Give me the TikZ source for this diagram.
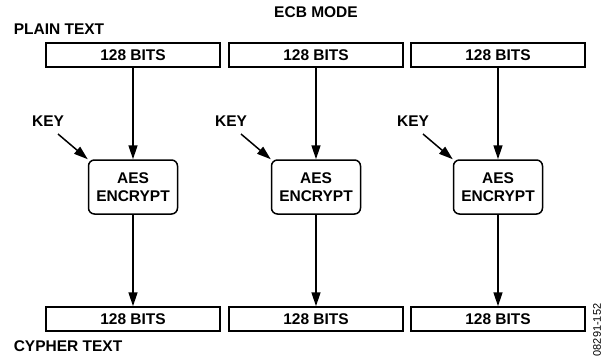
\documentclass[tikz,border=0pt]{standalone}
\usepackage{fontspec}
\setmainfont{Liberation Sans}
\usetikzlibrary{arrows.meta, positioning}

\begin{document}
\begin{tikzpicture}[x=1pt, y=-1pt, line width=1.5pt, >={Triangle[length=14pt,width=9pt]},
  lbl/.style={font=\fontsize{15.5}{18}\selectfont\bfseries, inner sep=0pt},
  bitsbox/.style={lbl, draw, minimum width=174pt, minimum height=24pt},
  aesbox/.style={lbl, draw, rounded corners=6pt, minimum width=89pt, minimum height=54pt, align=center}]
\useasboundingbox (0,0) rectangle (603,360);
% Headings
\node[lbl] (title) at (316,12.5) {ECB MODE};
\node[lbl, anchor=west] (plain) at (13,29) {PLAIN TEXT};
\node[lbl, anchor=west] (cypher) at (13,346) {CYPHER TEXT};
% One column per block
\foreach \cx [count=\i] in {133, 316, 498} {
  \node[bitsbox] (in\i) at (\cx,55) {128 BITS};
  \node[aesbox] (aes\i) at (\cx,187) {AES\\ENCRYPT};
  \node[bitsbox] (out\i) at (\cx,319) {128 BITS};
  \node[lbl] (key\i) at (\cx-85,121) {KEY};
  \coordinate (keyst\i) at (\cx-75,134);
  \draw[->] (in\i) -- (aes\i);
  \draw[->] (aes\i) -- (out\i);
  \draw[->] (keyst\i) -- (aes\i.north west);
}
% Figure code
\node[font=\fontsize{11}{11}\selectfont, rotate=90, inner sep=0pt] (figcode) at (597,330) {08291-152};
\end{tikzpicture}
\end{document}
